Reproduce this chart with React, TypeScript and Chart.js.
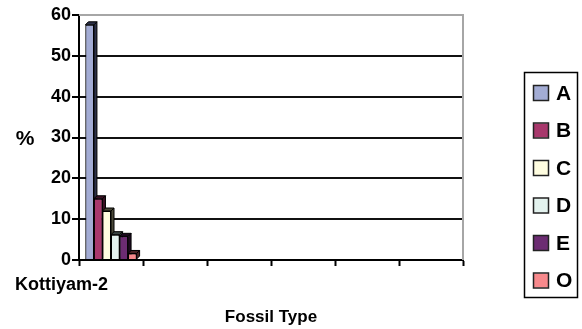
import React, { useEffect, useRef } from 'react';
import { Chart, registerables } from 'chart.js';

Chart.register(...registerables);

const categories = ['Kottiyam-2', '', '', '', '', ''];
const seriesNames = ['A', 'B', 'C', 'D', 'E', 'O'];
const seriesA = [57.6, null, null, null, null, null];
const seriesB = [15.0, null, null, null, null, null];
const seriesC = [12.0, null, null, null, null, null];
const seriesD = [6.2, null, null, null, null, null];
const seriesE = [5.8, null, null, null, null, null];
const seriesO = [1.6, null, null, null, null, null];
const seriesValues = [seriesA, seriesB, seriesC, seriesD, seriesE, seriesO];
const seriesColors = ['#a3acd4', '#a8386c', '#fffde0', '#e3f2ee', '#6c2c72', '#f7898c'];
const sideColors = ['#2c3048', '#3a1024', '#4a4838', '#3a4442', '#1e0a20', '#4a2426'];
const yMin = 0;
const yMax = 60;
const yStep = 10;
const xTitle = 'Fossil Type';
const yTitle = '%';

const FONT = "'Liberation Sans', Arial, Helvetica, sans-serif";

const depthPlugin = {
  id: 'depth3d',
  afterDatasetsDraw(chart: any) {
    const ctx = chart.ctx;
    const d = 3;
    ctx.save();
    chart.data.datasets.forEach((ds: any, i: number) => {
      const meta = chart.getDatasetMeta(i);
      meta.data.forEach((el: any, j: number) => {
        const v = ds.data[j];
        if (v === null || v === undefined) return;
        const { x, y, base, width } = el.getProps(['x', 'y', 'base', 'width'], true);
        const l = x - width / 2;
        const r = x + width / 2;
        ctx.beginPath();
        ctx.moveTo(r, y);
        ctx.lineTo(r + d, y - d);
        ctx.lineTo(r + d, base - d);
        ctx.lineTo(r, base);
        ctx.closePath();
        ctx.fillStyle = sideColors[i];
        ctx.fill();
        ctx.strokeStyle = '#000';
        ctx.lineWidth = 1;
        ctx.stroke();
        ctx.beginPath();
        ctx.moveTo(l, y);
        ctx.lineTo(l + d, y - d);
        ctx.lineTo(r + d, y - d);
        ctx.lineTo(r, y);
        ctx.closePath();
        ctx.fillStyle = sideColors[i];
        ctx.fill();
        ctx.stroke();
        el.draw(ctx);
      });
    });
    ctx.restore();
  },
};

const decorPlugin = {
  id: 'decor',
  beforeDatasetsDraw(chart: any) {
    const { ctx, chartArea } = chart;
    ctx.save();
    ctx.strokeStyle = '#a6a6a6';
    ctx.lineWidth = 2;
    ctx.beginPath();
    ctx.moveTo(chartArea.left, chartArea.top);
    ctx.lineTo(chartArea.right, chartArea.top);
    ctx.lineTo(chartArea.right, chartArea.bottom);
    ctx.stroke();
    ctx.restore();
  },
  afterDraw(chart: any) {
    const { ctx, chartArea } = chart;
    ctx.save();
    ctx.fillStyle = '#000';
    ctx.font = `bold 21px ${FONT}`;
    ctx.textAlign = 'center';
    ctx.textBaseline = 'middle';
    ctx.fillText(yTitle, 25, (chartArea.top + chartArea.bottom) / 2 + 2);
    ctx.strokeStyle = '#000';
    ctx.lineWidth = 1.5;
    ctx.strokeRect(524.5, 72.5, 53, 225);
    chart.data.datasets.forEach((ds: any, i: number) => {
      const cy = 93 + i * 37.5;
      ctx.fillStyle = ds.backgroundColor;
      ctx.fillRect(534, cy - 7, 14, 14);
      ctx.strokeStyle = '#222';
      ctx.lineWidth = 1.5;
      ctx.strokeRect(533.5, cy - 7.5, 15, 15);
      ctx.fillStyle = '#000';
      ctx.font = `bold 21px ${FONT}`;
      ctx.textAlign = 'left';
      ctx.textBaseline = 'middle';
      ctx.fillText(ds.label, 556, cy + 1);
    });
    ctx.restore();
  },
};

export default function App() {
  const ref = useRef<HTMLCanvasElement>(null);
  useEffect(() => {
    if (!ref.current) return;
    const chart = new Chart(ref.current, {
      type: 'bar',
      data: {
        labels: categories,
        datasets: seriesNames.map((name, i) => ({
          label: name,
          data: seriesValues[i],
          backgroundColor: seriesColors[i],
          borderColor: '#000',
          borderWidth: 1,
          categoryPercentage: 0.8,
          barPercentage: 1.0,
        })),
      },
      options: {
        responsive: false,
        animation: false,
        layout: { padding: { top: 15, right: 119, bottom: 0, left: 0 } },
        plugins: {
          legend: { display: false },
          tooltip: { enabled: false },
          title: { display: false },
        },
        scales: {
          x: {
            grid: {
              display: true,
              drawOnChartArea: false,
              drawTicks: true,
              tickLength: 6,
              tickColor: '#000',
              tickWidth: 2,
              offset: true,
            },
            border: { display: true, color: '#000', width: 2 },
            ticks: {
              autoSkip: false,
              maxRotation: 0,
              minRotation: 0,
              align: 'end',
              labelOffset: -3,
              padding: 8,
              color: '#000',
              font: { family: FONT, size: 18, weight: 'bold' },
            },
            title: {
              display: true,
              text: xTitle,
              color: '#000',
              font: { family: FONT, size: 17, weight: 'bold' },
              padding: { top: 0, bottom: 1 },
            },
            afterFit: (s: any) => {
              s.height = 69;
            },
          },
          y: {
            min: yMin,
            max: yMax,
            ticks: {
              stepSize: yStep,
              padding: 1,
              color: '#000',
              font: { family: FONT, size: 18, weight: 'bold' },
            },
            grid: {
              color: (c: any) => (c.tick && c.tick.value === yMax ? 'rgba(0,0,0,0)' : '#111'),
              lineWidth: 2,
              tickLength: 7,
              tickColor: '#000',
              tickWidth: 2,
            },
            border: { display: true, color: '#000', width: 2 },
            afterFit: (s: any) => {
              s.width = 79;
            },
          },
        },
      },
      plugins: [decorPlugin, depthPlugin],
    } as any);
    return () => chart.destroy();
  }, []);
  return (
    <div style={{ position: 'absolute', left: 0, top: 0, width: 582, height: 329, background: '#fff' }}>
      <canvas ref={ref} width={582} height={329} style={{ width: 582, height: 329, display: 'block' }} />
    </div>
  );
}
